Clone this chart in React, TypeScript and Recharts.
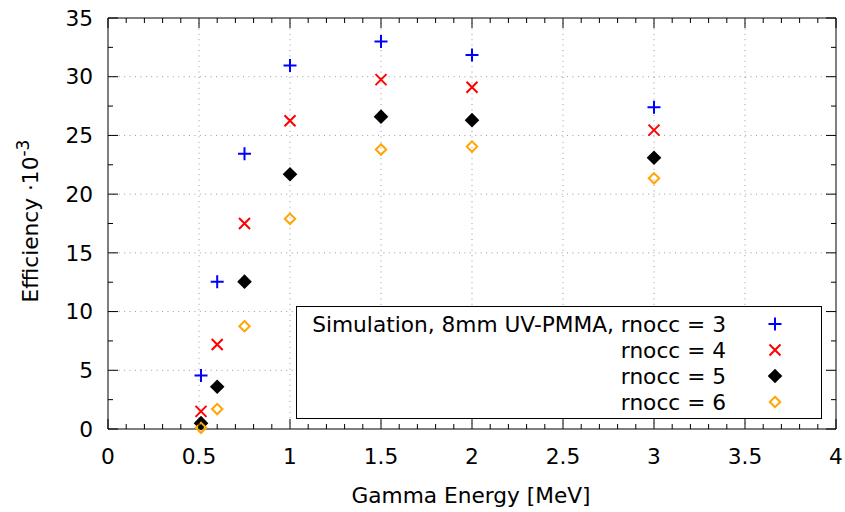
import { ScatterChart, Scatter, XAxis, YAxis, ReferenceLine, ReferenceArea, Legend } from 'recharts';

// Gamma energies [MeV] and simulated efficiencies (x 10^-3)
const energies = [0.511, 0.6, 0.75, 1.0, 1.5, 2.0, 3.0];
const effRnocc3 = [4.55, 12.55, 23.45, 30.95, 33.0, 31.85, 27.4];
const effRnocc4 = [1.5, 7.2, 17.5, 26.25, 29.75, 29.1, 25.45];
const effRnocc5 = [0.5, 3.6, 12.55, 21.7, 26.6, 26.3, 23.1];
const effRnocc6 = [0.1, 1.7, 8.75, 17.9, 23.8, 24.05, 21.35];

const seriesNames = ['Simulation, 8mm UV-PMMA, rnocc = 3', 'rnocc = 4', 'rnocc = 5', 'rnocc = 6'];

const xGrid = [0.5, 1, 1.5, 2, 2.5, 3, 3.5];
const yGrid = [5, 10, 15, 20, 25, 30];

const FONT = '"DejaVu Sans", sans-serif';
const FS = 21.7;
const PLOT_TOP = 18;
const PLOT_RIGHT = 836;

// all tenths for x minor ticks, steps of 2.5 for y minor ticks
const xTicks = Array.from({ length: 41 }, (_, i) => i / 10);
const yTicks = Array.from({ length: 15 }, (_, i) => i * 2.5);

const toPoints = (ys: number[]) => energies.map((x, i) => ({ x, y: ys[i] }));

const PlusMark = ({ cx, cy }: any) => (
  <path d={`M${cx - 6.5},${cy}H${cx + 6.5}M${cx},${cy - 6.5}V${cy + 6.5}`} stroke="#0000ff" strokeWidth={2} fill="none" />
);
const CrossMark = ({ cx, cy }: any) => (
  <path
    d={`M${cx - 5.5},${cy - 5.5}L${cx + 5.5},${cy + 5.5}M${cx - 5.5},${cy + 5.5}L${cx + 5.5},${cy - 5.5}`}
    stroke="#ff0000"
    strokeWidth={2}
    fill="none"
  />
);
const FilledDiamond = ({ cx, cy }: any) => (
  <path d={`M${cx},${cy - 7.3}L${cx + 7.3},${cy}L${cx},${cy + 7.3}L${cx - 7.3},${cy}Z`} fill="#000" />
);
const OpenDiamond = ({ cx, cy }: any) => (
  <path d={`M${cx},${cy - 5.2}L${cx + 5.2},${cy}L${cx},${cy + 5.2}L${cx - 5.2},${cy}Z`} stroke="#ffa500" strokeWidth={2} fill="none" />
);

const markers = [PlusMark, CrossMark, FilledDiamond, OpenDiamond];

const XTick = ({ x, y, payload }: any) => {
  const v = payload.value;
  const major = Math.abs(v * 2 - Math.round(v * 2)) < 1e-6;
  const len = major ? 10 : 5;
  return (
    <g>
      <line x1={x} y1={y} x2={x} y2={y - len} stroke="#000" />
      <line x1={x} y1={PLOT_TOP} x2={x} y2={PLOT_TOP + len} stroke="#000" />
      {major && (
        <text x={x} y={y + 35} textAnchor="middle" fontSize={FS} fontFamily={FONT} fill="#000">
          {v}
        </text>
      )}
    </g>
  );
};

const YTick = ({ x, y, payload }: any) => {
  const v = payload.value;
  const major = v % 5 === 0;
  const len = major ? 10 : 5;
  return (
    <g>
      <line x1={x} y1={y} x2={x + len} y2={y} stroke="#000" />
      <line x1={PLOT_RIGHT} y1={y} x2={PLOT_RIGHT - len} y2={y} stroke="#000" />
      {major && (
        <text x={x - 15} y={y + 7.7} textAnchor="end" fontSize={FS} fontFamily={FONT} fill="#000">
          {v}
        </text>
      )}
    </g>
  );
};

const XLabel = () => (
  <text x={471} y={503} textAnchor="middle" fontSize={FS} fontFamily={FONT} fill="#000">
    Gamma Energy [MeV]
  </text>
);

const YLabel = () => (
  <text x={38} y={221} transform="rotate(-90, 38, 221)" textAnchor="middle" fontSize={FS} fontFamily={FONT} fill="#000">
    Efficiency ·10
    <tspan dy={-9} fontSize={17}>
      -3
    </tspan>
  </text>
);

const LegendBox = () => (
  <svg width={526} height={113} style={{ display: 'block' }}>
    <rect x={0.5} y={0.5} width={525} height={112} fill="#fff" stroke="#000" />
    {seriesNames.map((name, i) => {
      const Mark = markers[i];
      return (
        <g key={name}>
          <text x={430} y={26.3 + 26 * i} textAnchor="end" fontSize={FS} fontFamily={FONT} fill="#000">
            {name}
          </text>
          <Mark cx={479} cy={18 + 26 * i} />
        </g>
      );
    })}
  </svg>
);

export default function App() {
  const seriesData = [effRnocc3, effRnocc4, effRnocc5, effRnocc6];
  return (
    <div style={{ position: 'absolute', left: 0, top: 0, width: 845, height: 512, background: '#fff' }}>
      <ScatterChart width={845} height={512} margin={{ top: 18, right: 9, bottom: 23, left: 0 }}>
        <XAxis
          type="number"
          dataKey="x"
          domain={[0, 4]}
          ticks={xTicks}
          interval={0}
          tickSize={0}
          tickMargin={0}
          axisLine={false}
          tickLine={false}
          tick={<XTick />}
          height={60}
          label={() => <XLabel />}
        />
        <YAxis
          type="number"
          dataKey="y"
          domain={[0, 35]}
          ticks={yTicks}
          interval={0}
          tickSize={0}
          tickMargin={0}
          axisLine={false}
          tickLine={false}
          tick={<YTick />}
          width={108}
          label={() => <YLabel />}
        />
        {xGrid.map((v) => (
          <ReferenceLine key={`gx${v}`} x={v} stroke="#999" strokeDasharray="1 4.4" />
        ))}
        {yGrid.map((v) => (
          <ReferenceLine key={`gy${v}`} y={v} stroke="#999" strokeDasharray="1 4.4" />
        ))}
        <ReferenceArea x1={0} x2={4} y1={0} y2={35} fill="none" fillOpacity={0} stroke="#000" strokeWidth={1} />
        {seriesData.map((ys, i) => (
          <Scatter
            key={seriesNames[i]}
            name={seriesNames[i]}
            data={toPoints(ys)}
            shape={markers[i]}
            isAnimationActive={false}
          />
        ))}
        <Legend
          layout="vertical"
          align="center"
          verticalAlign="middle"
          width={526}
          height={113}
          wrapperStyle={{ position: 'absolute', left: 296, top: 306, width: 526, height: 113 }}
          content={<LegendBox />}
        />
      </ScatterChart>
    </div>
  );
}
